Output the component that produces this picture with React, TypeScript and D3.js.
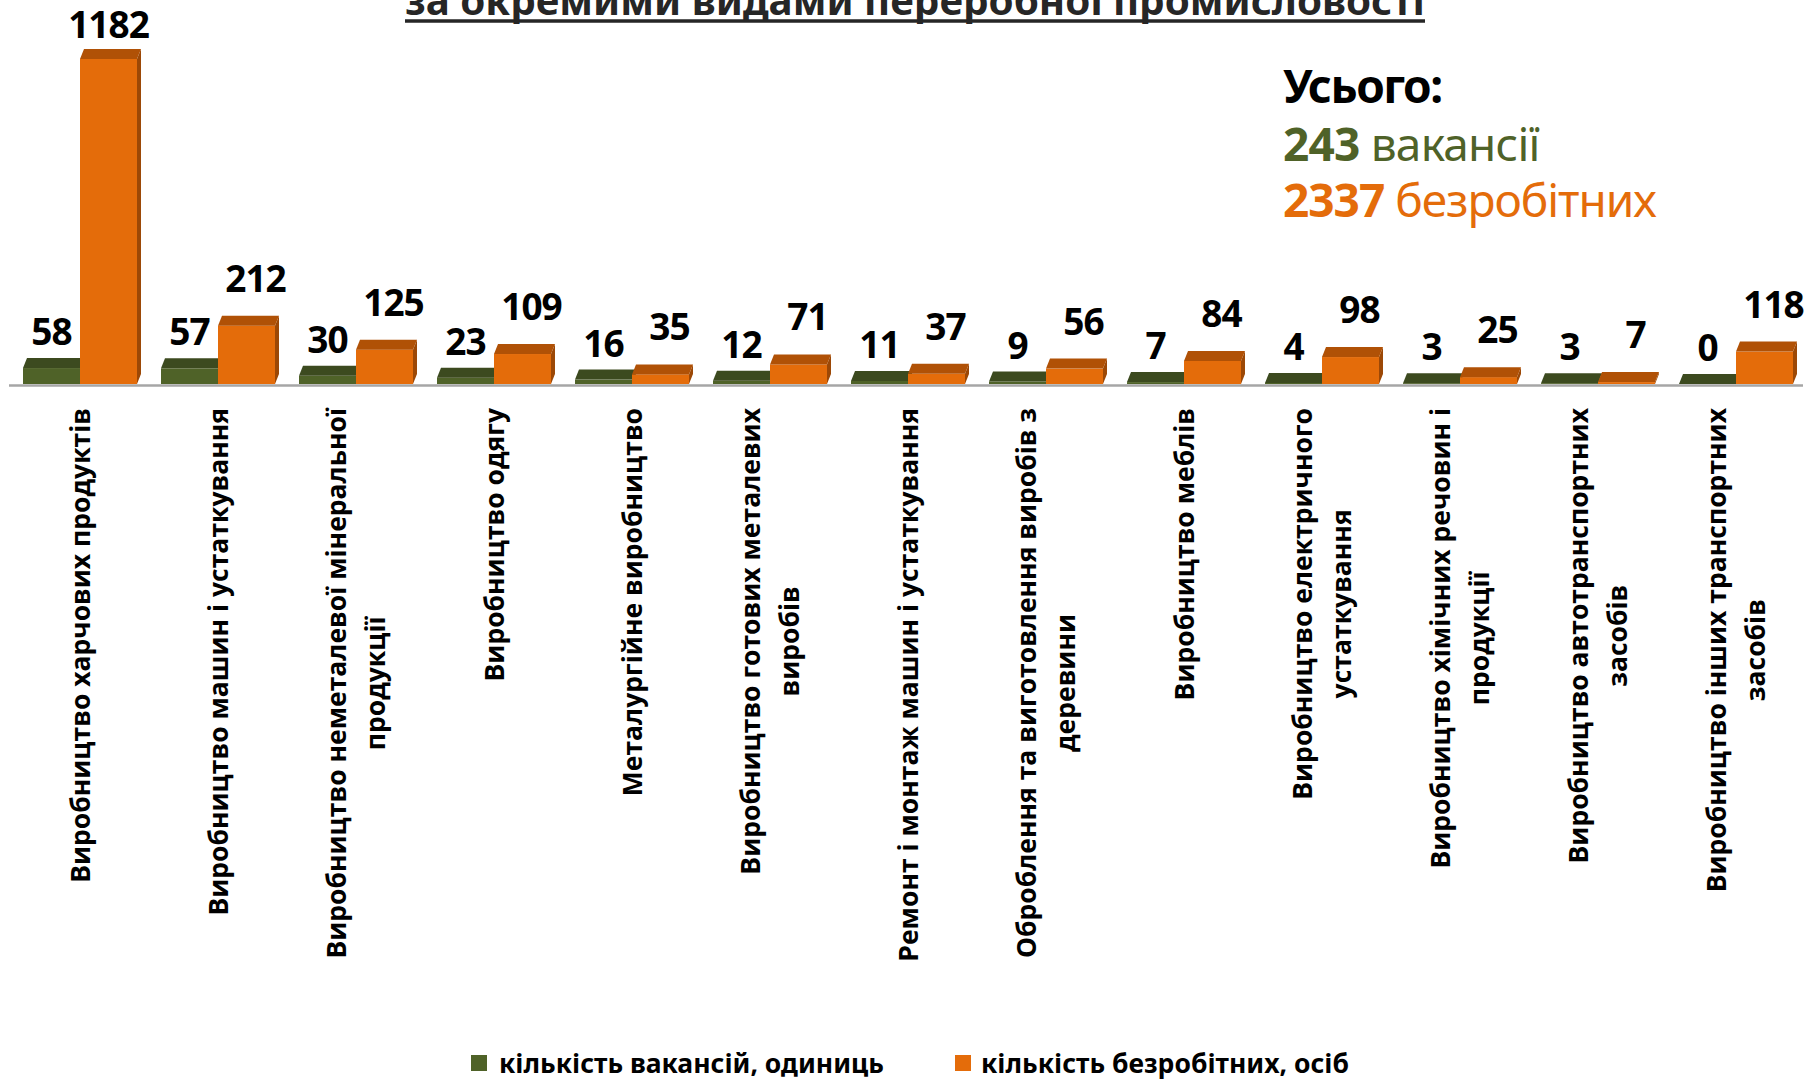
import React, { useEffect, useRef } from 'react';
import * as d3 from 'd3';

const categories: string[] = [
  'Виробництво харчових продуктів',
  'Виробництво машин і устаткування',
  'Виробництво неметалевої мінеральної\nпродукції',
  'Виробництво одягу',
  'Металургійне виробництво',
  'Виробництво готових металевих\nвиробів',
  'Ремонт і монтаж машин і устаткування',
  'Оброблення та виготовлення виробів з\nдеревини',
  'Виробництво меблів',
  'Виробництво електричного\nустаткування',
  'Виробництво хімічних речовин і\nпродукції',
  'Виробництво автотранспортних\nзасобів',
  'Виробництво інших транспортних\nзасобів',
];

const vacancies: number[] = [58, 57, 30, 23, 16, 12, 11, 9, 7, 4, 3, 3, 0];
const unemployed: number[] = [1182, 212, 125, 109, 35, 71, 37, 56, 84, 98, 25, 7, 118];

const seriesNames: string[] = ['кількість вакансій, одиниць', 'кількість безробітних, осіб'];
const titleText = 'за окремими видами переробної промисловості';
const totalLabel = 'Усього:';
const totalVacancies = 243;
const totalVacanciesWord = 'вакансії';
const totalUnemployed = 2337;
const totalUnemployedWord = 'безробітних';

const W = 1819;
const H = 1081;
const GREEN = '#4F6228';
const ORANGE = '#E46C0A';
const CALIBRI = "'Noto Sans', 'Open Sans', sans-serif";
const MONTS = "'Open Sans', 'Noto Sans', sans-serif";

export default function App() {
  const ref = useRef<SVGSVGElement | null>(null);

  useEffect(() => {
    const svg = d3.select(ref.current as SVGSVGElement);
    svg.selectAll('*').remove();

    const n = categories.length;
    const x = d3
      .scaleBand<number>()
      .domain(d3.range(n))
      .range([11, 1805])
      .paddingInner(0.174)
      .paddingOuter(0.087);
    const y = d3.scaleLinear().domain([0, 1200]).range([384, 54]);
    const bw = x.bandwidth() / 2;
    const dx = 4;
    const dy = 10;

    svg.append('rect').attr('width', W).attr('height', H).attr('fill', '#ffffff');

    // title (second line, cut at top)
    const tx0 = 405;
    const tx1 = 1425;
    svg
      .append('text')
      .attr('x', (tx0 + tx1) / 2)
      .attr('y', 15)
      .attr('text-anchor', 'middle')
      .attr('font-family', CALIBRI)
      .attr('font-weight', 700)
      .attr('font-size', 40)
      .attr('fill', '#262626')
      .attr('textLength', tx1 - tx0)
      .attr('lengthAdjust', 'spacingAndGlyphs')
      .text(titleText);
    svg
      .append('line')
      .attr('x1', tx0)
      .attr('x2', tx1)
      .attr('y1', 21)
      .attr('y2', 21)
      .attr('stroke', '#262626')
      .attr('stroke-width', 3.5);

    // axis line
    svg
      .append('line')
      .attr('x1', 9)
      .attr('x2', 1803)
      .attr('y1', 385.5)
      .attr('y2', 385.5)
      .attr('stroke', '#a6a6a6')
      .attr('stroke-width', 2.5);

    const drawBar = (
      g: d3.Selection<SVGGElement, unknown, null, undefined>,
      x0: number,
      v: number,
      front: string,
      top: string,
      side: string
    ) => {
      const yt = y(v);
      const yb = y(0);
      g.append('path')
        .attr('d', `M${x0 + bw},${yt}L${x0 + bw + dx},${yt - dy}L${x0 + bw + dx},${yb - dy}L${x0 + bw},${yb}Z`)
        .attr('fill', side);
      g.append('rect')
        .attr('x', x0)
        .attr('y', yt)
        .attr('width', bw)
        .attr('height', yb - yt)
        .attr('fill', front);
      g.append('path')
        .attr('d', `M${x0},${yt}L${x0 + bw},${yt}L${x0 + bw + dx},${yt - dy}L${x0 + dx},${yt - dy}Z`)
        .attr('fill', top);
    };

    const bars = svg.append('g');
    categories.forEach((_, i) => {
      const x0 = x(i) as number;
      const g = bars.append('g');
      drawBar(g, x0, vacancies[i], GREEN, '#3C4A1F', '#36431B');
      drawBar(g, x0 + bw, unemployed[i], ORANGE, '#B05106', '#9C4806');
    });

    // value labels
    const vl = svg
      .append('g')
      .attr('font-family', CALIBRI)
      .attr('font-weight', 700)
      .attr('font-size', 37)
      .attr('fill', '#000')
      .attr('text-anchor', 'middle')
      .attr('letter-spacing', -1);
    categories.forEach((_, i) => {
      const x0 = x(i) as number;
      vl.append('text')
        .attr('x', x0 + bw / 2)
        .attr('y', y(vacancies[i]) - 23)
        .text(String(vacancies[i]));
      const raw = y(unemployed[i]) - 34;
      const clamped = raw < 38;
      vl.append('text')
        .attr('x', x0 + bw * 1.5 + (clamped ? 0 : 9))
        .attr('y', clamped ? 38 : raw)
        .text(String(unemployed[i]));
    });

    // category labels
    const cl = svg
      .append('g')
      .attr('font-family', MONTS)
      .attr('font-weight', 700)
      .attr('font-size', 26.5)
      .attr('fill', '#000');
    const lineH = 39;
    categories.forEach((c, i) => {
      const lines = c.split('\n');
      const cx = (x(i) as number) + x.bandwidth() / 2;
      const texts = lines.map((ln) =>
        cl.append('text').attr('text-anchor', 'middle').attr('dy', '0.36em').text(ln)
      );
      const maxW = d3.max(texts, (t) => (t.node() as SVGTextElement).getComputedTextLength()) || 0;
      const cy = 408 + maxW / 2;
      texts.forEach((t, j) => {
        const lx = cx + (j - (lines.length - 1) / 2) * lineH;
        t.attr('transform', `translate(${lx},${cy}) rotate(-90)`);
      });
    });

    // totals block
    const tb = svg.append('g').attr('font-family', CALIBRI).attr('font-size', 46);
    tb.append('text')
      .attr('x', 1283)
      .attr('y', 103)
      .attr('font-weight', 700)
      .attr('letter-spacing', -1.5)
      .attr('fill', '#000')
      .text(totalLabel);
    const t1 = tb.append('text').attr('x', 1283).attr('y', 161).attr('fill', GREEN).attr('letter-spacing', -0.8);
    t1.append('tspan').attr('font-weight', 700).text(String(totalVacancies));
    t1.append('tspan').attr('font-weight', 400).text(' ' + totalVacanciesWord);
    const t2 = tb.append('text').attr('x', 1283).attr('y', 217).attr('fill', ORANGE).attr('letter-spacing', -1);
    t2.append('tspan').attr('font-weight', 700).text(String(totalUnemployed));
    t2.append('tspan').attr('font-weight', 400).text(' ' + totalUnemployedWord);

    // legend
    const lg = svg
      .append('g')
      .attr('font-family', CALIBRI)
      .attr('font-weight', 700)
      .attr('font-size', 26.5)
      .attr('fill', '#000');
    const legendItems = [
      { name: seriesNames[0], color: GREEN, x: 471, tx: 499 },
      { name: seriesNames[1], color: ORANGE, x: 955, tx: 981 },
    ];
    legendItems.forEach((it) => {
      lg.append('rect').attr('x', it.x).attr('y', 1055).attr('width', 16).attr('height', 16).attr('fill', it.color);
      lg.append('text').attr('x', it.tx).attr('y', 1073).text(it.name);
    });
  }, []);

  return (
    <svg
      ref={ref}
      width={W}
      height={H}
      style={{ position: 'absolute', left: 0, top: 0, display: 'block' }}
    />
  );
}
